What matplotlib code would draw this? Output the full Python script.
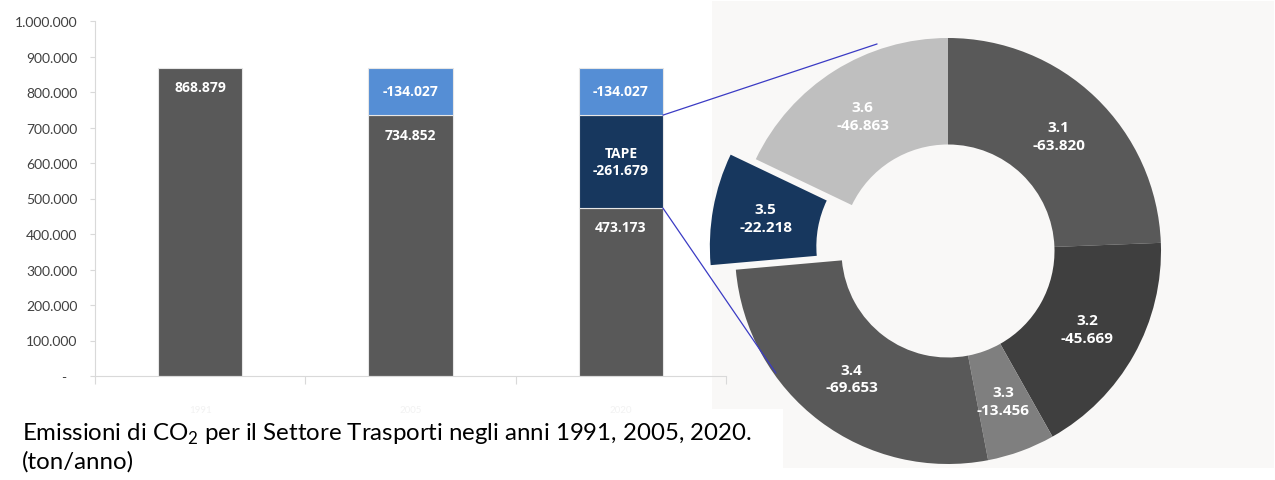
import math
import matplotlib
matplotlib.use("Agg")
import matplotlib.pyplot as plt
from matplotlib.patches import Rectangle, ConnectionPatch

plt.rcParams['font.family'] = ['Lato', 'DejaVu Sans']
plt.rcParams['mathtext.fontset'] = 'custom'
plt.rcParams['mathtext.rm'] = 'Lato'

# ---- data -------------------------------------------------------------
years = ['1991', '2005', '2020']
remaining = [868879, 734852, 473173]          # residual emissions (grey)
tape_cut = [0, 0, 261679]                     # reduction from TAPE actions
cut_2005 = [0, 134027, 134027]                # reduction 1991 -> 2005

sectors = ['3.1', '3.2', '3.3', '3.4', '3.5', '3.6']
sector_cut = [63820, 45669, 13456, 69653, 22218, 46863]

ytick_values = [0, 100000, 200000, 300000, 400000, 500000,
                600000, 700000, 800000, 900000, 1000000]
ytick_labels = ['-   ', '100.000', '200.000', '300.000', '400.000', '500.000',
                '600.000', '700.000', '800.000', '900.000', '1.000.000']

caption_1 = r"Emissioni di CO$_{\mathrm{2}}$ per il Settore Trasporti negli anni 1991, 2005, 2020."
caption_2 = "(ton/anno)"

GREY = '#595959'
BLUE = '#558ed5'
NAVY = '#17375e'
sector_colors = ['#595959', '#3f3f3f', '#7f7f7f', '#595959', NAVY, '#bfbfbf']
LINK = '#3b3bc4'
LABEL_FONT = dict(family=['Open Sans', 'DejaVu Sans'], fontweight='bold', color='white')


def it_num(v):
    return f"{v:,}".replace(",", ".")


W, H = 1275, 481
fig = plt.figure(figsize=(W / 100, H / 100), dpi=100)
fig.patch.set_facecolor('white')

# light backdrop behind the donut, and white strip behind the caption
fig.patches.append(Rectangle((712 / W, (H - 469) / H), (1274 - 712) / W, (469 - 2) / H,
                             transform=fig.transFigure, fc='#f9f8f7', ec='none', zorder=-3))
fig.patches.append(Rectangle((0, 0), 783 / W, (H - 410) / H,
                             transform=fig.transFigure, fc='white', ec='none', zorder=-2))

# ---- stacked bars -----------------------------------------------------
ax = fig.add_axes([95 / W, (H - 377) / H, (726 - 95) / W, (377 - 22) / H])
ax.set_facecolor('none')
x = list(range(len(years)))
bw = 0.4
for i in x:
    base = 0
    ax.bar(i, remaining[i], bw, bottom=base, color=GREY, edgecolor='#e6e6e6', linewidth=0.8, zorder=2)
    ax.annotate(it_num(remaining[i]), (i, remaining[i]), xytext=(0, -14), textcoords='offset points',
                ha='center', va='center', fontsize=10, zorder=4, **LABEL_FONT)
    base += remaining[i]
    if tape_cut[i] > 0:
        ax.bar(i, tape_cut[i], bw, bottom=base, color=NAVY, edgecolor='#e6e6e6', linewidth=0.8, zorder=2)
        ax.text(i, base + tape_cut[i] / 2, "TAPE\n-" + it_num(tape_cut[i]), ha='center', va='center',
                fontsize=10, linespacing=1.3, zorder=4, **LABEL_FONT)
        base += tape_cut[i]
    if cut_2005[i] > 0:
        ax.bar(i, cut_2005[i], bw, bottom=base, color=BLUE, edgecolor='#e6e6e6', linewidth=0.8, zorder=2)
        ax.text(i, base + cut_2005[i] / 2, "-" + it_num(cut_2005[i]), ha='center', va='center',
                fontsize=10, zorder=4, **LABEL_FONT)

ax.set_xlim(-0.5, 2.5)
ax.set_ylim(0, 1000000)
ax.set_yticks(ytick_values)
ax.set_yticklabels(ytick_labels)
ax.set_xticks(x)
ax.set_xticklabels(years, color='#f2f2f2', fontsize=7)
ax.set_xticks([-0.5, 0.5, 1.5, 2.5], minor=True)
ax.tick_params(axis='x', which='major', length=0, pad=21)
ax.tick_params(axis='x', which='minor', length=5.5, color='#d9d9d9', width=0.8)
ax.tick_params(axis='y', length=3.6, color='#d9d9d9', width=0.8, pad=9, labelsize=10, labelcolor='#404040')
for s in ['top', 'right']:
    ax.spines[s].set_visible(False)
for s in ['left', 'bottom']:
    ax.spines[s].set_color('#d9d9d9')
    ax.spines[s].set_linewidth(0.8)

# ---- donut of TAPE actions --------------------------------------------
R_PX = 213
HALF = 250
cx, cy = 948, H - 252
ax2 = fig.add_axes([(cx - HALF) / W, (cy - HALF) / H, 2 * HALF / W, 2 * HALF / H])
explode = [0, 0, 0, 0, 0.12, 0]
wedges, _ = ax2.pie(sector_cut, startangle=90, counterclock=False, radius=1,
                    colors=sector_colors, explode=explode,
                    wedgeprops=dict(width=0.5, edgecolor='none'))
for w, name, val in zip(wedges, sectors, sector_cut):
    mid = math.radians((w.theta1 + w.theta2) / 2)
    px = w.center[0] + 0.75 * math.cos(mid)
    py = w.center[1] + 0.75 * math.sin(mid)
    ax2.text(px, py, f"{name}\n-{it_num(val)}", ha='center', va='center',
             fontsize=11, linespacing=1.35, **LABEL_FONT)
L = HALF / R_PX
ax2.set_xlim(-L, L)
ax2.set_ylim(-L, L)
ax2.axis('off')

# ---- links from the TAPE segment to the donut --------------------------
top_tape = remaining[2] + tape_cut[2]
for ya, (xb, yb) in [(top_tape, (-0.333, 0.972)), (remaining[2], (-0.808, -0.573))]:
    con = ConnectionPatch(xyA=(2 + bw / 2, ya), coordsA=ax.transData,
                          xyB=(xb, yb), coordsB=ax2.transData,
                          color=LINK, linewidth=0.9, zorder=5)
    fig.add_artist(con)

# ---- caption ----------------------------------------------------------
fig.text(22 / W, 1 - 441 / H, caption_1, fontsize=17.3, color='black', va='baseline')
fig.text(22 / W, 1 - 469 / H, caption_2, fontsize=17.3, color='black', va='baseline')

fig.savefig('out.png', dpi=100)
